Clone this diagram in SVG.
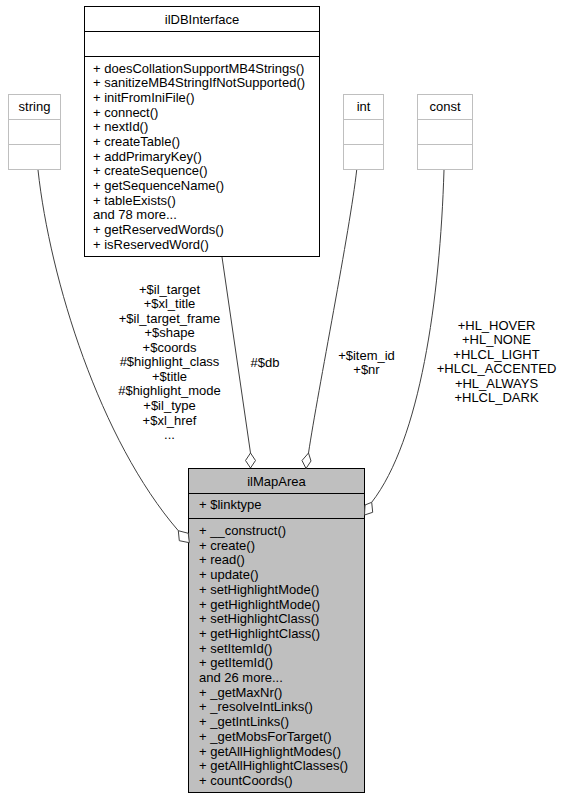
<svg xmlns="http://www.w3.org/2000/svg" width="566" height="800" viewBox="0 0 566 800">
<style>
text{font-family:"Liberation Sans",Arial,sans-serif;font-size:13px;fill:#000}
.c{text-anchor:middle}
.box{fill:#fff;stroke:#000;stroke-width:1}
.grey{fill:#fff;stroke:#bfbfbf;stroke-width:1}
.main{fill:#bfbfbf;stroke:#000;stroke-width:1}
.edge{fill:none;stroke:#404040;stroke-width:1}
.dia{fill:#fff;stroke:#404040;stroke-width:1}
</style>
<rect width="566" height="800" fill="#fff"/>
<g id="ilDBInterface">
<rect class="box" x="84.5" y="6.5" width="235" height="250"/>
<line class="box" x1="84.5" y1="31.5" x2="319.5" y2="31.5"/>
<line class="box" x1="84.5" y1="56.5" x2="319.5" y2="56.5"/>
<text class="c" x="202" y="23.5">ilDBInterface</text>
<text x="93" y="72.5">+ doesCollationSupportMB4Strings()</text>
<text x="93" y="87.2">+ sanitizeMB4StringIfNotSupported()</text>
<text x="93" y="101.8">+ initFromIniFile()</text>
<text x="93" y="116.5">+ connect()</text>
<text x="93" y="131.2">+ nextId()</text>
<text x="93" y="145.8">+ createTable()</text>
<text x="93" y="160.5">+ addPrimaryKey()</text>
<text x="93" y="175.2">+ createSequence()</text>
<text x="93" y="189.9">+ getSequenceName()</text>
<text x="93" y="204.5">+ tableExists()</text>
<text x="93" y="219.2">and 78 more...</text>
<text x="93" y="233.9">+ getReservedWords()</text>
<text x="93" y="248.5">+ isReservedWord()</text>
</g>
<g id="string">
<rect class="grey" x="8.5" y="94.5" width="52" height="75"/>
<line class="grey" x1="8.5" y1="119.5" x2="60.5" y2="119.5"/>
<line class="grey" x1="8.5" y1="144.5" x2="60.5" y2="144.5"/>
<text class="c" x="34.5" y="111">string</text>
</g>
<g id="int">
<rect class="grey" x="343.5" y="94.5" width="40" height="75"/>
<line class="grey" x1="343.5" y1="119.5" x2="383.5" y2="119.5"/>
<line class="grey" x1="343.5" y1="144.5" x2="383.5" y2="144.5"/>
<text class="c" x="363.5" y="111">int</text>
</g>
<g id="const">
<rect class="grey" x="417.5" y="94.5" width="55" height="75"/>
<line class="grey" x1="417.5" y1="119.5" x2="472.5" y2="119.5"/>
<line class="grey" x1="417.5" y1="144.5" x2="472.5" y2="144.5"/>
<text class="c" x="445" y="111">const</text>
</g>
<g id="ilMapArea">
<rect class="main" x="188.5" y="468.5" width="176" height="324"/>
<line class="main" x1="188.5" y1="493.5" x2="364.5" y2="493.5"/>
<line class="main" x1="188.5" y1="518.5" x2="364.5" y2="518.5"/>
<text class="c" x="276.5" y="486">ilMapArea</text>
<text x="199" y="509">+ $linktype</text>
<text x="199" y="535">+ __construct()</text>
<text x="199" y="549.7">+ create()</text>
<text x="199" y="564.4">+ read()</text>
<text x="199" y="579.1">+ update()</text>
<text x="199" y="593.8">+ setHighlightMode()</text>
<text x="199" y="608.5">+ getHighlightMode()</text>
<text x="199" y="623.2">+ setHighlightClass()</text>
<text x="199" y="637.9">+ getHighlightClass()</text>
<text x="199" y="652.6">+ setItemId()</text>
<text x="199" y="667.3">+ getItemId()</text>
<text x="199" y="682">and 26 more...</text>
<text x="199" y="696.7">+ _getMaxNr()</text>
<text x="199" y="711.4">+ _resolveIntLinks()</text>
<text x="199" y="726.1">+ _getIntLinks()</text>
<text x="199" y="740.8">+ _getMobsForTarget()</text>
<text x="199" y="755.5">+ getAllHighlightModes()</text>
<text x="199" y="770.2">+ getAllHighlightClasses()</text>
<text x="199" y="784.9">+ countCoords()</text>
</g>
<g id="connectors">
<path class="edge" d="M38,170 C50,280 100,440 178.3,530.7"/>
<polygon class="dia" points="178.3,530.7 188.3,533.3 189.3,542.7 179.3,540.7"/>
<path class="edge" d="M222,257 L250.5,453"/>
<polygon class="dia" points="250.5,453 255.5,460.5 250.5,468 245.5,460.5"/>
<path class="edge" d="M356.7,170 C350,230 318,390 308.5,453"/>
<polygon class="dia" points="308.5,453 311,461 306,468.5 302,460.5"/>
<path class="edge" d="M444,170 C440,300 420,440 371.7,502.3"/>
<polygon class="dia" points="371.7,502.3 372.7,512.3 364.5,515 365,505"/>
<g class="lbl">
<text class="c" x="169.5" y="293.5">+$il_target</text>
<text class="c" x="169.5" y="308">+$xl_title</text>
<text class="c" x="169.5" y="322.6">+$il_target_frame</text>
<text class="c" x="169.5" y="337.2">+$shape</text>
<text class="c" x="169.5" y="351.7">+$coords</text>
<text class="c" x="169.5" y="366.3">#$highlight_class</text>
<text class="c" x="169.5" y="380.9">+$title</text>
<text class="c" x="169.5" y="395.4">#$highlight_mode</text>
<text class="c" x="169.5" y="410">+$il_type</text>
<text class="c" x="169.5" y="424.5">+$xl_href</text>
<text class="c" x="169.5" y="439">...</text>
<text class="c" x="265" y="367">#$db</text>
<text class="c" x="366.5" y="359.5">+$item_id</text>
<text class="c" x="366.5" y="374">+$nr</text>
<text class="c" x="496.5" y="329.5">+HL_HOVER</text>
<text class="c" x="496.5" y="344">+HL_NONE</text>
<text class="c" x="496.5" y="358.6">+HLCL_LIGHT</text>
<text class="c" x="496.5" y="373.2">+HLCL_ACCENTED</text>
<text class="c" x="496.5" y="387.8">+HL_ALWAYS</text>
<text class="c" x="496.5" y="402.4">+HLCL_DARK</text>
</g>
</g>
</svg>
